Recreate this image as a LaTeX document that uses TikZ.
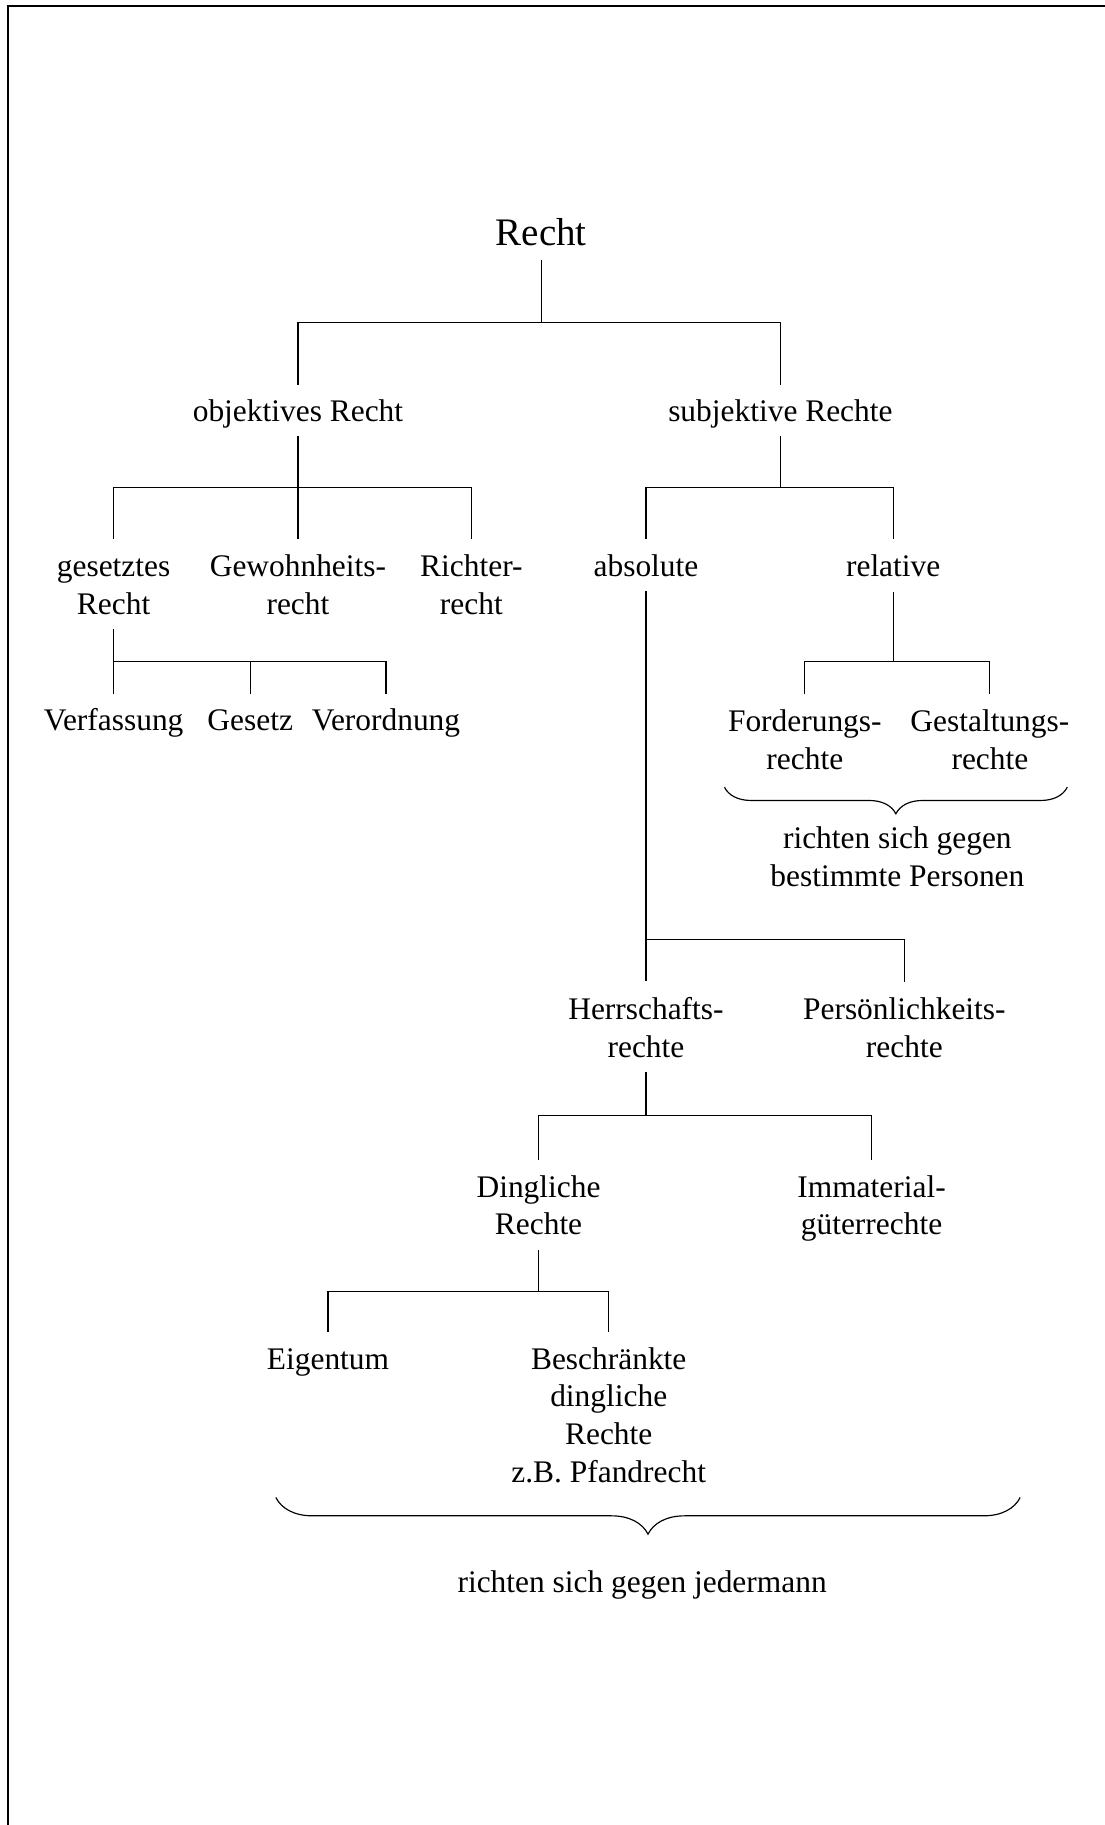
\documentclass[tikz,border=0pt]{standalone}
\usepackage{fontspec}
\setmainfont{Liberation Serif}
\usetikzlibrary{calc,decorations.pathreplacing}

\begin{document}
\begin{tikzpicture}[x=1pt,y=-1pt,
  lbl/.style={anchor=base, inner sep=0pt, align=center,
              font=\fontsize{27}{32.4}\selectfont},
  titlelbl/.style={anchor=base, inner sep=0pt,
              font=\fontsize{33.5}{40}\selectfont},
  conn/.style={line width=1pt},
  brc/.style={line width=1pt, decorate,
              decoration={brace, mirror, amplitude=#1}},
  framelines/.style={line width=1.15pt}]

\useasboundingbox (0,0) rectangle (949,1568);

% page frame (top and left edge)
\draw[framelines] (6.9,1568) -- (6.9,5.2) -- (949,5.2);

% ---- labels (base anchor = baseline of the last line) ----
\node[titlelbl] (recht) at (465,210.6) {Recht};
\node[lbl] (obj)  at (256,362.5)   {objektives Recht};
\node[lbl] (subj) at (670.5,362.5) {subjektive Rechte};

\node[lbl] (gesetzt) at (97.6,527.9)  {gesetztes\\Recht};
\node[lbl] (gewohn)  at (256,527.9)   {Gewohnheits-\\recht};
\node[lbl] (richter) at (405,527.9)   {Richter-\\recht};
\node[lbl] (abs)     at (555,495)     {absolute};
\node[lbl] (rel)     at (767.4,495.5) {relative};

\node[lbl] (verf)   at (97.6,628)   {Verfassung};
\node[lbl] (gesetz) at (215,628)    {Gesetz};
\node[lbl] (vo)     at (331.6,628)  {Verordnung};
\node[lbl] (ford)   at (691.5,660.9) {Forderungs-\\rechte};
\node[lbl] (gest)   at (850.5,660.9) {Gestaltungs-\\rechte};
\node[lbl] (bestp)  at (771,761.7)   {richten sich gegen\\bestimmte Personen};

\node[lbl] (herr) at (555,908.4) {Herrschafts-\\rechte};
\node[lbl] (pers) at (777,908.4) {Persönlichkeits-\\rechte};

\node[lbl] (ding) at (462.7,1060.9) {Dingliche\\Rechte};
\node[lbl] (imm)  at (748.8,1060.9) {Immaterial-\\güterrechte};

\node[lbl] (eig)    at (281.8,1176.3) {Eigentum};
\node[lbl] (beschr) at (523,1273.5)   {Beschränkte\\dingliche\\Rechte\\z.B. Pfandrecht};

\node[lbl] (jeder) at (551.7,1368.3) {richten sich gegen jedermann};

% ---- junction bars ----
\coordinate (bar1) at (465,277.4);
\coordinate (bar2) at (256,419);
\coordinate (bar3) at (670.5,419);
\coordinate (bar4) at (97.6,568);
\coordinate (bar5) at (767.4,568);
\coordinate (bar6) at (555,807.5);
\coordinate (bar7) at (555,958.5);
\coordinate (bar8) at (462.7,1109.5);

% ---- connectors ----
% Recht
\draw[conn] ($(recht.base)+(0,13)$) -- (recht.base |- bar1);
\draw[conn] ($(obj.base)+(0,-32)$) |- (bar1) -| ($(subj.base)+(0,-32)$);

% objektives Recht
\draw[conn] ($(obj.base)+(0,12.5)$) -- (bar2);
\draw[conn] ($(gesetzt.base)+(0,-64.4)$) |- (bar2) -| ($(richter.base)+(0,-64.4)$);
\draw[conn] ($(gewohn.base)+(0,-64.4)$) -- (gewohn.base |- bar2);

% subjektive Rechte
\draw[conn] ($(subj.base)+(0,12.5)$) -- (bar3);
\draw[conn] ($(abs.base)+(0,-32)$) |- (bar3) -| ($(rel.base)+(0,-32)$);

% gesetztes Recht
\draw[conn] ($(gesetzt.base)+(0,12.5)$) -- (bar4);
\draw[conn] ($(verf.base)+(0,-31.5)$) |- (bar4) -| ($(vo.base)+(0,-31.5)$);
\draw[conn] ($(gesetz.base)+(0,-31.5)$) -- (gesetz.base |- bar4);

% relative
\draw[conn] ($(rel.base)+(0,13)$) -- (bar5);
\draw[conn] ($(ford.base)+(0,-64.4)$) |- (bar5) -| ($(gest.base)+(0,-64.4)$);

% absolute
\draw[conn] ($(abs.base)+(0,12.5)$) -- ($(herr.base)+(0,-65.4)$);
\draw[conn] (bar6) -| ($(pers.base)+(0,-64.9)$);

% Herrschaftsrechte
\draw[conn] ($(herr.base)+(0,13)$) -- (bar7);
\draw[conn] ($(ding.base)+(0,-64.4)$) |- (bar7) -| ($(imm.base)+(0,-64.4)$);

% Dingliche Rechte
\draw[conn] ($(ding.base)+(0,13)$) -- (bar8);
\draw[conn] ($(eig.base)+(0,-31.5)$) |- (bar8) -| ($(beschr.base)+(0,-128.7)$);

% ---- braces ----
\coordinate (brAl) at (622.4,676.3);
\coordinate (brAr) at (917,676.3);
\draw[brc=22.9] (brAl) -- (brAr);
\coordinate (brBl) at (237,1286.6);
\coordinate (brBr) at (876.5,1286.6);
\draw[brc=31.5] (brBl) -- (brBr);

\end{tikzpicture}
\end{document}
